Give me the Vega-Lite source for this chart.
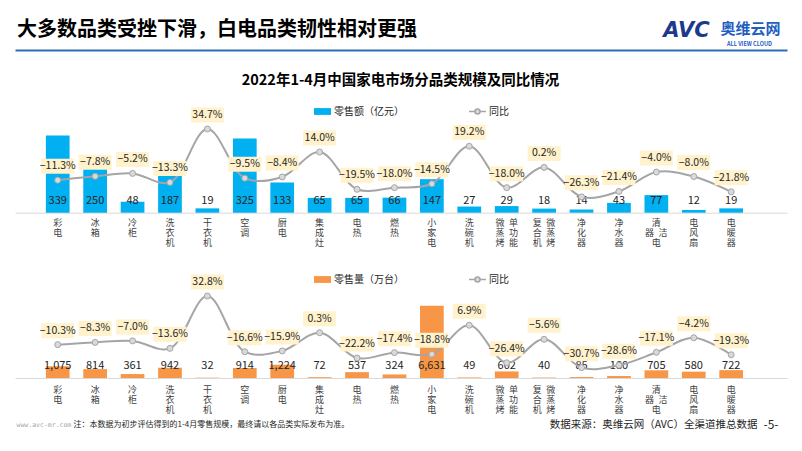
{
  "$schema": "https://vega.github.io/schema/vega-lite/v6.json",
  "width": 772,
  "height": 328,
  "autosize": {"type": "none"},
  "padding": {"left": 15, "top": 50, "right": 15, "bottom": 73},
  "background": "white",
  "title": {"text": "大多数品类受挫下滑，白电品类韧性相对更强", "anchor": "start", "frame": "group", "offset": 6, "dy": 27, "fontSize": 20, "fontWeight": "bold", "color": "#000000", "font": "Noto Sans CJK SC", "dx": 2},
  "datasets": {
    "d": [
      {"cat": "彩电", "amt": 339, "amt_yoy": -0.113, "vol": 1075, "vol_yoy": -0.103},
      {"cat": "冰箱", "amt": 250, "amt_yoy": -0.078, "vol": 814, "vol_yoy": -0.083},
      {"cat": "冷柜", "amt": 48, "amt_yoy": -0.052, "vol": 361, "vol_yoy": -0.070},
      {"cat": "洗衣机", "amt": 187, "amt_yoy": -0.133, "vol": 942, "vol_yoy": -0.136},
      {"cat": "干衣机", "amt": 19, "amt_yoy": 0.347, "vol": 32, "vol_yoy": 0.328},
      {"cat": "空调", "amt": 325, "amt_yoy": -0.095, "vol": 914, "vol_yoy": -0.166},
      {"cat": "厨电", "amt": 133, "amt_yoy": -0.084, "vol": 1224, "vol_yoy": -0.159},
      {"cat": "集成灶", "amt": 65, "amt_yoy": 0.140, "vol": 72, "vol_yoy": 0.003},
      {"cat": "电热", "amt": 65, "amt_yoy": -0.195, "vol": 537, "vol_yoy": -0.222},
      {"cat": "燃热", "amt": 66, "amt_yoy": -0.180, "vol": 324, "vol_yoy": -0.174},
      {"cat": "小家电", "amt": 147, "amt_yoy": -0.145, "vol": 6631, "vol_yoy": -0.188},
      {"cat": "洗碗机", "amt": 27, "amt_yoy": 0.192, "vol": 49, "vol_yoy": 0.069},
      {"cat": "单功能微蒸烤", "amt": 29, "amt_yoy": -0.180, "vol": 602, "vol_yoy": -0.264},
      {"cat": "微蒸烤复合机", "amt": 18, "amt_yoy": 0.002, "vol": 40, "vol_yoy": -0.056},
      {"cat": "净化器", "amt": 14, "amt_yoy": -0.263, "vol": 85, "vol_yoy": -0.307},
      {"cat": "净水器", "amt": 43, "amt_yoy": -0.214, "vol": 180, "vol_yoy": -0.286},
      {"cat": "清洁电器", "amt": 77, "amt_yoy": -0.040, "vol": 705, "vol_yoy": -0.171},
      {"cat": "电风扇", "amt": 12, "amt_yoy": -0.080, "vol": 580, "vol_yoy": -0.042},
      {"cat": "电暖器", "amt": 19, "amt_yoy": -0.218, "vol": 722, "vol_yoy": -0.193}
    ]
  },
  "data": {"name": "d"},
  "layer": [
    {
      "encoding": {
        "x": {"field": "cat", "type": "nominal", "sort": null,
          "scale": {"domain": ["彩电","冰箱","冷柜","洗衣机","干衣机","空调","厨电","集成灶","电热","燃热","小家电","洗碗机","单功能微蒸烤","微蒸烤复合机","净化器","净水器","清洁电器","电风扇","电暖器"], "paddingInner": 0.366, "paddingOuter": 1.18, "align": 0.4125},
          "axis": {"orient": "bottom", "offset": -165.3, "domain": true, "domainColor": "#D9D9D9", "domainWidth": 1, "labels": true,
            "labelExpr": "datum.value == '单功能微蒸烤' ? ['微\u2002单','蒸\u2002功','烤\u2002能'] : datum.value == '微蒸烤复合机' ? ['复\u2002微','合\u2002蒸','机\u2002烤'] : datum.value == '清洁电器' ? ['\u3000\u2002清','器\u2002洁','\u3000\u2002电'] : split(datum.value, '')",
            "labelAngle": 0, "labelAlign": "center", "labelBaseline": "top", "labelFontSize": 9, "labelLineHeight": 10, "labelColor": "#404040", "labelPadding": 6, "labelOverlap": false, "labelBound": false, "labelFlush": false,
            "title": "ALL VIEW CLOUD", "titleX": 734, "titleY": -169.5, "titleFontSize": 5.5, "titleFontWeight": "bold", "titleColor": "#1F5FBF", "titleAlign": "center", "titleBaseline": "middle", "titleAngle": 0}}
      },
      "layer": [
        {"mark": {"type": "bar", "color": "#00B0F0", "width": {"band": 1}},
          "encoding": {
            "y": {"field": "amt", "type": "quantitative", "scale": {"domain": [-725, 713.6]},
              "axis": {"orient": "left", "title": "www.avc-mr.com", "titleAngle": 0, "titleX": 1, "titleY": 374, "titleAlign": "left", "titleBaseline": "middle", "titleFontSize": 6.5, "titleFont": "DejaVu Sans Mono", "titleFontWeight": "normal", "titleColor": "#A6A6A6"}},
            "color": {"datum": "零售额（亿元）", "scale": {"range": ["#00B0F0"]},
              "legend": {"orient": "none", "legendX": 298, "legendY": 52, "title": null, "symbolType": "M-1,-0.4H1V0.4H-1Z", "symbolSize": 289, "labelFontSize": 10, "labelOffset": 2, "padding": 0, "labelColor": "#262626"}}
          }},
        {"mark": {"type": "text", "dy": -12, "fontSize": 11, "color": "#262626"},
          "encoding": {
            "y": {"datum": 0, "scale": {"domain": [-725, 713.6]}},
            "text": {"field": "amt", "type": "quantitative", "format": ","}
          }}
      ]
    },
    {
      "encoding": {
        "x": {"field": "cat", "type": "nominal", "sort": null,
          "scale": {"domain": ["彩电","冰箱","冷柜","洗衣机","干衣机","空调","厨电","集成灶","电热","燃热","小家电","洗碗机","单功能微蒸烤","微蒸烤复合机","净化器","净水器","清洁电器","电风扇","电暖器"], "paddingInner": 0.366, "paddingOuter": 1.18, "align": 0.4125},
          "axis": {"orient": "bottom", "offset": 0, "domain": true, "domainColor": "#D9D9D9", "domainWidth": 1, "labels": true,
            "labelExpr": "datum.value == '单功能微蒸烤' ? ['微\u2002单','蒸\u2002功','烤\u2002能'] : datum.value == '微蒸烤复合机' ? ['复\u2002微','合\u2002蒸','机\u2002烤'] : datum.value == '清洁电器' ? ['\u3000\u2002清','器\u2002洁','\u3000\u2002电'] : split(datum.value, '')",
            "labelAngle": 0, "labelAlign": "center", "labelBaseline": "top", "labelFontSize": 9, "labelLineHeight": 10, "labelColor": "#404040", "labelPadding": 7, "labelOverlap": false, "labelBound": false, "labelFlush": false,
            "title": "注：本数据为初步评估得到的1-4月零售规模，最终请以各品类实际发布为准。", "titleX": 58, "titleY": 46, "titleFontSize": 8, "titleFontWeight": "normal", "titleColor": "#262626", "titleAlign": "left", "titleBaseline": "middle", "titleAngle": 0}}
      },
      "layer": [
        {"mark": {"type": "bar", "color": "#F79646", "width": {"band": 1}},
          "encoding": {
            "y": {"field": "vol", "type": "quantitative", "scale": {"domain": [0, 30092]},
              "axis": {"orient": "left", "title": "数据来源：奥维云网（AVC）全渠道推总数据", "titleAngle": 0, "titleX": 742, "titleY": 374, "titleAlign": "right", "titleBaseline": "middle", "titleFontSize": 10.5, "titleFontWeight": "normal", "titleColor": "#262626"}},
            "color": {"datum": "零售量（万台）", "scale": {"range": ["#F79646"]},
              "legend": {"orient": "none", "legendX": 298, "legendY": 220, "title": null, "symbolType": "M-1,-0.4H1V0.4H-1Z", "symbolSize": 289, "labelFontSize": 10, "labelOffset": 2, "padding": 0, "labelColor": "#262626"}}
          }},
        {"mark": {"type": "text", "dy": -11.7, "fontSize": 11, "color": "#262626"},
          "encoding": {
            "y": {"datum": 0, "scale": {"domain": [0, 30092]}},
            "text": {"field": "vol", "type": "quantitative", "format": ","}
          }}
      ]
    },
    {
      "encoding": {
        "x": {"field": "cat", "type": "nominal", "sort": null,
          "scale": {"domain": ["彩电","冰箱","冷柜","洗衣机","干衣机","空调","厨电","集成灶","电热","燃热","小家电","洗碗机","单功能微蒸烤","微蒸烤复合机","净化器","净水器","清洁电器","电风扇","电暖器"], "paddingInner": 0.366, "paddingOuter": 1.18, "align": 0.4125},
          "axis": {"orient": "top", "domain": false, "labels": false,
            "title": "AVC", "titleX": 671, "titleY": -20, "titleFontSize": 21, "titleFontWeight": "bold", "titleFontStyle": "italic", "titleFont": "DejaVu Sans", "titleColor": "#1B3A8C", "titleAlign": "center", "titleBaseline": "middle", "titleAngle": 0}}
      },
      "layer": [
        {"mark": {"type": "line", "interpolate": "catmull-rom", "strokeWidth": 2},
          "encoding": {
            "y": {"field": "amt_yoy", "type": "quantitative", "scale": {"domain": [-1.891, 1.057]},
              "axis": {"orient": "left", "title": "奥维云网", "titleAngle": 0, "titleX": 735, "titleY": -22, "titleAlign": "center", "titleBaseline": "middle", "titleFontSize": 15, "titleFontWeight": "bold", "titleColor": "#1F5FBF"}},
            "stroke": {"datum": "同比", "scale": {"range": ["#A5A5A5"]},
              "legend": {"orient": "none", "legendX": 453, "legendY": 52, "title": null, "symbolType": "M-1,0H-0.3M0.3,0H1M0.3,0A0.3,0.3,0,1,1,-0.3,0A0.3,0.3,0,1,1,0.3,0Z", "symbolSize": 289, "symbolStrokeWidth": 1.5, "symbolFillColor": "#D9D9D9", "labelFontSize": 10, "labelOffset": 2, "padding": 0, "labelColor": "#262626"}}
          }},
        {"mark": {"type": "point", "filled": true, "fill": "#D9D9D9", "stroke": "#A5A5A5", "strokeWidth": 1, "size": 36, "opacity": 1},
          "encoding": {"y": {"field": "amt_yoy", "type": "quantitative", "scale": {"domain": [-1.891, 1.057]}}}},
        {"mark": {"type": "point", "shape": "M-1.1,-0.5H1.1V0.5H-1.1Z", "size": 900, "filled": true, "fill": "#FFF2CC", "strokeWidth": 0, "opacity": 1, "yOffset": -14},
          "encoding": {"y": {"field": "amt_yoy", "type": "quantitative", "scale": {"domain": [-1.891, 1.057]}}}},
        {"mark": {"type": "text", "dy": -14, "fontSize": 10.5, "color": "#262626"},
          "encoding": {"y": {"field": "amt_yoy", "type": "quantitative", "scale": {"domain": [-1.891, 1.057]}}, "text": {"field": "amt_yoy", "type": "quantitative", "format": ".1%"}}}
      ]
    },
    {
      "encoding": {
        "x": {"field": "cat", "type": "nominal", "sort": null,
          "scale": {"domain": ["彩电","冰箱","冷柜","洗衣机","干衣机","空调","厨电","集成灶","电热","燃热","小家电","洗碗机","单功能微蒸烤","微蒸烤复合机","净化器","净水器","清洁电器","电风扇","电暖器"], "paddingInner": 0.366, "paddingOuter": 1.18, "align": 0.4125},
          "axis": {"orient": "top", "domain": true, "domainColor": "#2E6DB4", "domainWidth": 2, "labels": false,
            "title": "2022年1-4月中国家电市场分品类规模及同比情况", "titleX": 385, "titleY": 30.7, "titleFontSize": 14.5, "titleFontWeight": "bold", "titleColor": "#000000", "titleAlign": "center", "titleBaseline": "middle", "titleAngle": 0}}
      },
      "layer": [
        {"mark": {"type": "line", "interpolate": "catmull-rom", "strokeWidth": 2},
          "encoding": {
            "y": {"field": "vol_yoy", "type": "quantitative", "scale": {"domain": [-0.399, 2.511]},
              "axis": {"orient": "left", "title": "-5-", "titleAngle": 0, "titleX": 755.5, "titleY": 374, "titleAlign": "center", "titleBaseline": "middle", "titleFontSize": 12, "titleFontWeight": "normal", "titleColor": "#262626"}},
            "stroke": {"datum": "同比", "scale": {"range": ["#A5A5A5"]},
              "legend": {"orient": "none", "legendX": 453, "legendY": 220, "title": null, "symbolType": "M-1,0H-0.3M0.3,0H1M0.3,0A0.3,0.3,0,1,1,-0.3,0A0.3,0.3,0,1,1,0.3,0Z", "symbolSize": 289, "symbolStrokeWidth": 1.5, "symbolFillColor": "#D9D9D9", "labelFontSize": 10, "labelOffset": 2, "padding": 0, "labelColor": "#262626"}}
          }},
        {"mark": {"type": "point", "filled": true, "fill": "#D9D9D9", "stroke": "#A5A5A5", "strokeWidth": 1, "size": 36, "opacity": 1},
          "encoding": {"y": {"field": "vol_yoy", "type": "quantitative", "scale": {"domain": [-0.399, 2.511]}}}},
        {"mark": {"type": "point", "shape": "M-1.1,-0.5H1.1V0.5H-1.1Z", "size": 900, "filled": true, "fill": "#FFF2CC", "strokeWidth": 0, "opacity": 1, "yOffset": -14},
          "encoding": {"y": {"field": "vol_yoy", "type": "quantitative", "scale": {"domain": [-0.399, 2.511]}}}},
        {"mark": {"type": "text", "dy": -14, "fontSize": 10.5, "color": "#262626"},
          "encoding": {"y": {"field": "vol_yoy", "type": "quantitative", "scale": {"domain": [-0.399, 2.511]}}, "text": {"field": "vol_yoy", "type": "quantitative", "format": ".1%"}}}
      ]
    }
  ],
  "resolve": {
    "scale": {"y": "independent", "color": "independent", "stroke": "independent"},
    "axis": {"x": "independent", "y": "independent"}
  },
  "config": {
    "font": "Noto Sans CJK SC",
    "view": {"stroke": null},
    "axis": {"grid": false, "ticks": false, "tickSize": 0, "labels": false, "domain": false, "titleFont": "Noto Sans CJK SC", "labelFont": "Noto Sans CJK SC"},
    "legend": {"labelFont": "Noto Sans CJK SC"},
    "text": {"font": "Noto Sans CJK SC"}
  }
}
